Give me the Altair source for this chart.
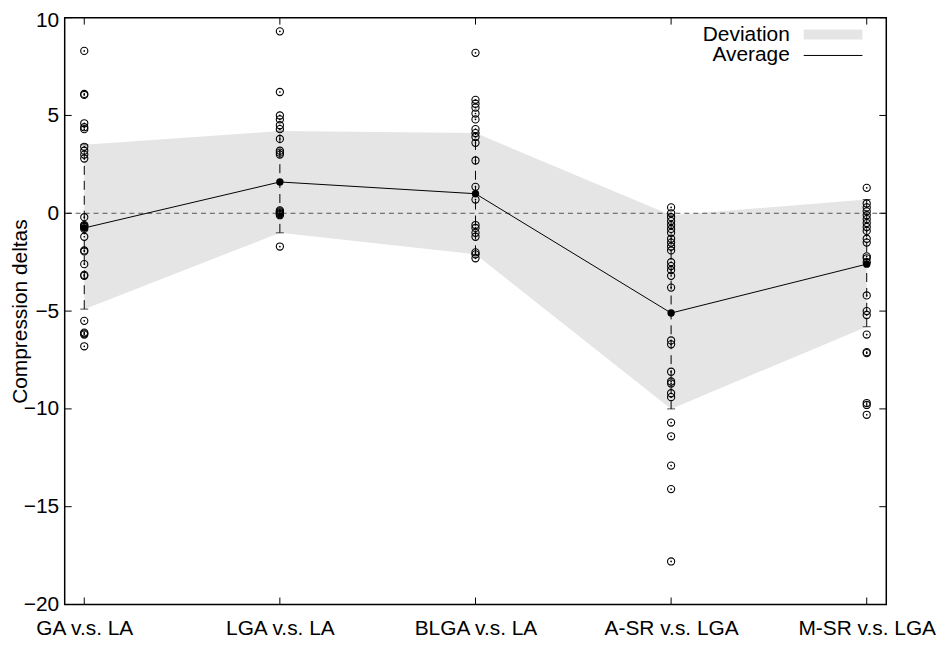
import json
import altair as alt
import pandas as pd

categories = ["GA v.s. LA", "LGA v.s. LA", "BLGA v.s. LA", "A-SR v.s. LGA", "M-SR v.s. LGA"]

ga_deltas = [8.3, 6.1, 6.05, 4.6, 4.4, 4.3, 3.4, 3.2, 3.0, 2.8, -0.2, -0.6, -0.65, -0.7, -0.8,
             -1.2, -1.9, -1.95, -2.6, -3.15, -3.2, -5.5, -6.1, -6.15, -6.2, -6.8]
lga_deltas = [9.3, 6.2, 5.0, 4.8, 4.5, 4.3, 3.8, 3.2, 3.1, 3.0, 0.15, 0.1, 0.05, 0.0, -0.05, -0.1, -1.7]
blga_deltas = [8.2, 5.8, 5.6, 5.4, 5.1, 4.8, 4.3, 4.1, 3.9, 3.6, 2.7, 1.35, 0.7, -0.6, -0.75,
               -1.0, -1.2, -2.0, -2.1, -2.3]
asr_deltas = [0.3, 0.0, -0.2, -0.4, -0.6, -0.8, -1.0, -1.3, -1.5, -1.7, -1.9, -2.5, -2.7, -2.9,
              -3.2, -3.8, -6.5, -6.7, -8.1, -8.6, -8.7, -9.2, -9.4, -10.7, -11.4, -12.9, -14.1, -17.8]
msr_deltas = [1.3, 0.5, 0.3, 0.1, -0.1, -0.3, -0.5, -0.7, -0.9, -1.3, -1.5, -2.2, -2.3, -2.5,
              -4.2, -5.0, -5.2, -6.2, -7.1, -7.15, -9.7, -9.8, -10.3]

average = [-0.75, 1.6, 1.0, -5.1, -2.6]
deviation_upper = [3.5, 4.2, 4.1, -0.1, 0.7]
deviation_lower = [-4.9, -1.0, -2.1, -10.0, -5.8]

y_tick_values = [-20, -15, -10, -5, 0, 5, 10]
legend_labels = ["Deviation", "Average"]

W, H = 826, 590
FONT = "Liberation Sans"
FS = 21
BAND = "#e5e5e5"

series = [ga_deltas, lga_deltas, blga_deltas, asr_deltas, msr_deltas]
points = pd.DataFrame([{"idx": i, "delta": v} for i, s in enumerate(series) for v in s])
summary = pd.DataFrame({"idx": list(range(len(categories))), "avg": average,
                        "upper": deviation_upper, "lower": deviation_lower})

xs = alt.Scale(domain=[-0.1, 4.1], nice=False, zero=False)
ys = alt.Scale(domain=[-20, 10], nice=False, zero=False)

xaxis = alt.Axis(values=list(range(len(categories))),
                 labelExpr=f"{json.dumps(categories)}[datum.value]",
                 ticks=False, domain=False, grid=False, labelFont=FONT, labelFontSize=FS,
                 labelColor="black", labelPadding=13, title="")
yaxis = alt.Axis(values=y_tick_values, ticks=False, domain=False, grid=False,
                 labelFont=FONT, labelFontSize=FS, labelColor="black", labelPadding=6,
                 labelOffset={"condition": {"test": f"datum.value == {max(y_tick_values)}", "value": 3},
                              "value": 0},
                 title="Compression deltas", titleFont=FONT, titleFontSize=FS,
                 titleFontWeight="normal", titleColor="black",
                 titleX=-44, titleY=H / 2, titleBaseline="middle", titleAlign="center")

X = alt.X("idx:Q", scale=xs, axis=xaxis)

band = alt.Chart(summary).mark_area(color=BAND, opacity=1).encode(
    x=X, y=alt.Y("lower:Q", scale=ys, axis=yaxis), y2="upper:Q")

zero_df = pd.DataFrame({"z": [0]})
zero_line = alt.Chart(zero_df).mark_rule(color="#555555", strokeDash=[5, 4], strokeWidth=1).encode(
    y=alt.Y("z:Q", scale=ys, axis=yaxis))

err = alt.Chart(summary).mark_rule(color="black", strokeDash=[9, 6], strokeWidth=1).encode(
    x=X, y=alt.Y("lower:Q", scale=ys, axis=yaxis), y2="upper:Q")
cap_lo = alt.Chart(summary).mark_tick(orient="horizontal", size=8, thickness=1, color="black").encode(
    x=X, y=alt.Y("lower:Q", scale=ys, axis=yaxis))
cap_hi = alt.Chart(summary).mark_tick(orient="horizontal", size=8, thickness=1, color="black").encode(
    x=X, y=alt.Y("upper:Q", scale=ys, axis=yaxis))

pts = alt.Chart(points).mark_point(shape="circle", filled=False, size=52, color="black",
                                   strokeWidth=1.1, opacity=1).encode(
    x=X, y=alt.Y("delta:Q", scale=ys, axis=yaxis))
dots = alt.Chart(points).mark_circle(size=3, color="black", opacity=1).encode(
    x=X, y=alt.Y("delta:Q", scale=ys, axis=yaxis))

avg_line = alt.Chart(summary).mark_line(color="black", strokeWidth=1).encode(
    x=X, y=alt.Y("avg:Q", scale=ys, axis=yaxis))
avg_pts = alt.Chart(summary).mark_circle(size=55, color="black", opacity=1).encode(
    x=X, y=alt.Y("avg:Q", scale=ys, axis=yaxis))

# inward ticks (gnuplot style, mirrored)
ytick_df = pd.DataFrame({"v": y_tick_values})
xtick_df = pd.DataFrame({"idx": list(range(len(categories)))})
TL = 7
yt_left = alt.Chart(ytick_df).mark_rule(color="black").encode(
    y=alt.Y("v:Q", scale=ys, axis=yaxis), x=alt.value(0), x2=alt.value(TL))
yt_right = alt.Chart(ytick_df).mark_rule(color="black").encode(
    y=alt.Y("v:Q", scale=ys, axis=yaxis), x=alt.value(W - TL), x2=alt.value(W))
xt_bottom = alt.Chart(xtick_df).mark_rule(color="black").encode(
    x=X, y=alt.value(H), y2=alt.value(H - TL))
xt_top = alt.Chart(xtick_df).mark_rule(color="black").encode(
    x=X, y=alt.value(0), y2=alt.value(TL))

# legend (text left, sample right)
leg_dev_text = alt.Chart(pd.DataFrame({"label": [legend_labels[0]]})).mark_text(
    align="right", baseline="middle", font=FONT, fontSize=FS, color="black").encode(
    text="label:N", x=alt.value(729), y=alt.value(17))
leg_avg_text = alt.Chart(pd.DataFrame({"label": [legend_labels[1]]})).mark_text(
    align="right", baseline="middle", font=FONT, fontSize=FS, color="black").encode(
    text="label:N", x=alt.value(729), y=alt.value(38))
one = pd.DataFrame({"k": [0]})
leg_dev_box = alt.Chart(one).mark_rect(color=BAND, opacity=1).encode(
    x=alt.value(743), x2=alt.value(802), y=alt.value(12), y2=alt.value(22))
leg_avg_line = alt.Chart(one).mark_rule(color="black", strokeWidth=1).encode(
    x=alt.value(743), x2=alt.value(802), y=alt.value(38))

chart = alt.layer(
    band, zero_line, err, cap_lo, cap_hi, pts, dots, avg_line, avg_pts,
    yt_left, yt_right, xt_bottom, xt_top,
    leg_dev_text, leg_avg_text, leg_dev_box, leg_avg_line,
).properties(
    width=W, height=H,
    autosize=alt.AutoSizeParams(type="none"),
    padding={"left": 57, "top": 8, "right": 53, "bottom": 39},
    background="white",
).configure_view(stroke="black", strokeWidth=1.5)

chart.save("out.html", embed_options={"renderer": "svg", "actions": False})
